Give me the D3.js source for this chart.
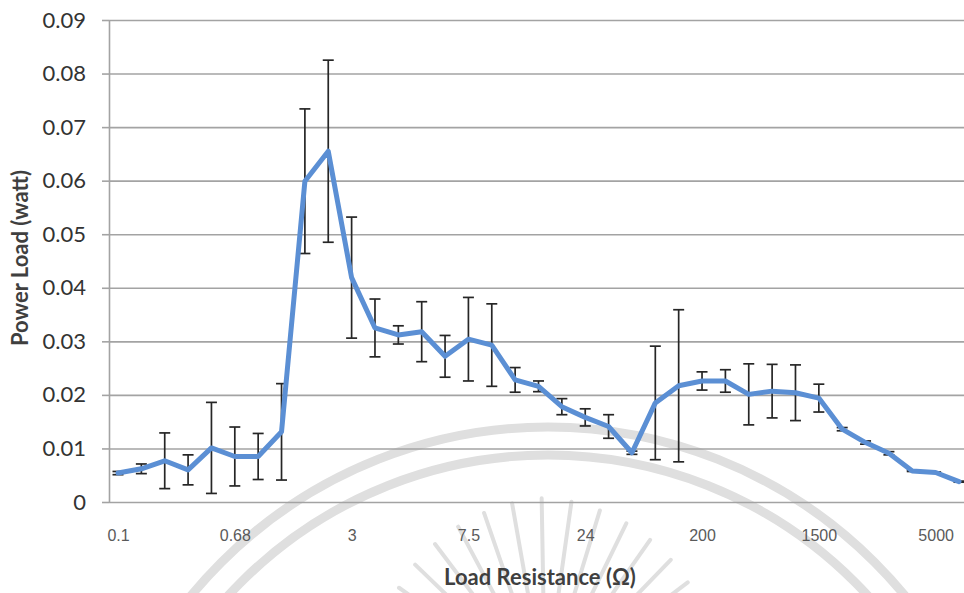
<!DOCTYPE html>
<html>
<head>
<meta charset="utf-8">
<script src="https://cdn.jsdelivr.net/npm/d3@7"></script>
<style>
  html, body { margin: 0; padding: 0; background: #ffffff; }
  svg { display: block; }
</style>
</head>
<body>
<svg id="chart" width="964" height="593"></svg>
<script>
// Measured load power at each load resistance step (37 steps, one label every 5th)
const stepCount = 37;
const power = [
  0.0054, 0.0062, 0.0077, 0.0060, 0.0101, 0.0085, 0.0085, 0.0131, 0.0599, 0.0655,
  0.0419, 0.0325, 0.0312, 0.0318, 0.0272, 0.0304, 0.0293, 0.0228, 0.0216, 0.0178,
  0.0158, 0.0141, 0.0092, 0.0185, 0.0217, 0.0226, 0.0226, 0.0201, 0.0207, 0.0204,
  0.0194, 0.0136, 0.0111, 0.0091, 0.0058, 0.0055, 0.0038
];
// Half-width of each error bar (watt)
const powerError = [
  0.0003, 0.0009, 0.0052, 0.0028, 0.0085, 0.0055, 0.0043, 0.0090, 0.0135, 0.0170,
  0.0113, 0.0054, 0.0017, 0.0056, 0.0039, 0.0078, 0.0077, 0.0023, 0.0010, 0.0015,
  0.0016, 0.0022, 0.0003, 0.0106, 0.0142, 0.0017, 0.0021, 0.0057, 0.0050, 0.0052,
  0.0026, 0.0003, 0.0003, 0.0003, 0.0001, 0.0001, 0.0001
];
// Resistance labels shown on the category axis and the step they sit under
const xTickSteps  = [0, 5, 10, 15, 20, 25, 30, 35];
const xTickLabels = ["0.1", "0.68", "3", "7.5", "24", "200", "1500", "5000"];
// Power axis ticks
const yTicks      = [0, 0.01, 0.02, 0.03, 0.04, 0.05, 0.06, 0.07, 0.08, 0.09];
const yTickLabels = ["0", "0.01", "0.02", "0.03", "0.04", "0.05", "0.06", "0.07", "0.08", "0.09"];

const xTitle = "Load Resistance (\u03A9)";
const yTitle = "Power Load (watt)";

const svg = d3.select("#chart");
const plot = { left: 109, right: 964, top: 20, bottom: 502 };

const steps = d3.range(stepCount);
const x = d3.scalePoint().domain(steps).range([118, 959]);
const y = d3.scaleLinear().domain([0, 0.09]).range([plot.bottom, plot.top]);

// faint background seal: two concentric rings and a fan of rays
const seal = svg.append("g").attr("class", "watermark")
  .attr("fill", "none").attr("stroke", "#dfdfdf");
const sealCx = 548, sealCy = 889;
[462, 434].forEach(r => {
  seal.append("circle").attr("cx", sealCx).attr("cy", sealCy).attr("r", r)
    .attr("stroke-width", 9);
});
const rayCx = 545, rayCy = 690;
d3.range(-172, -8, 9).forEach(a => {
  const t = a * Math.PI / 180;
  const r0 = 92, r1 = 192 - Math.abs(a + 90) * 0.25;
  seal.append("line")
    .attr("x1", rayCx + r0 * Math.cos(t)).attr("y1", rayCy + r0 * Math.sin(t))
    .attr("x2", rayCx + r1 * Math.cos(t)).attr("y2", rayCy + r1 * Math.sin(t))
    .attr("stroke-width", 4).attr("stroke-linecap", "round");
});

// horizontal gridlines
svg.append("g")
  .attr("transform", `translate(${plot.left},0)`)
  .call(d3.axisLeft(y).tickValues(yTicks).tickSize(-(plot.right - plot.left)).tickFormat(""))
  .call(g => g.select(".domain").remove())
  .call(g => g.selectAll(".tick line").attr("stroke", "#a3a3a3").attr("stroke-width", 1.6));

// power axis with outward tick marks and labels
svg.append("g")
  .attr("transform", `translate(${plot.left},0)`)
  .call(d3.axisLeft(y).tickValues(yTicks).tickSizeInner(7).tickSizeOuter(0).tickPadding(16)
    .tickFormat((d, i) => yTickLabels[i]))
  .call(g => g.select(".domain").attr("stroke", "#a3a3a3").attr("stroke-width", 1.6))
  .call(g => g.selectAll(".tick line").attr("stroke", "#a3a3a3").attr("stroke-width", 1.6))
  .call(g => g.selectAll(".tick text")
    .attr("font-family", "Lato, 'Open Sans', sans-serif")
    .attr("font-size", 22).attr("fill", "#333333"));

// resistance axis labels
svg.append("g")
  .attr("transform", `translate(0,${plot.bottom})`)
  .call(d3.axisBottom(x).tickValues(xTickSteps).tickSize(0).tickPadding(28)
    .tickFormat((d, i) => xTickLabels[i]))
  .call(g => g.select(".domain").remove())
  .call(g => g.selectAll(".tick text")
    .attr("font-family", "'Liberation Sans', Arial, sans-serif")
    .attr("font-size", 16).attr("fill", "#5a5a5a"));

// error bars
const capHalf = 5.5;
const bars = svg.append("g").attr("class", "error-bars")
  .attr("stroke", "#262626").attr("stroke-width", 1.7).attr("fill", "none");
steps.forEach(i => {
  const cx = x(i);
  const yHi = y(power[i] + powerError[i]);
  const yLo = y(power[i] - powerError[i]);
  bars.append("line").attr("x1", cx).attr("x2", cx).attr("y1", yHi).attr("y2", yLo);
  bars.append("line").attr("x1", cx - capHalf).attr("x2", cx + capHalf).attr("y1", yHi).attr("y2", yHi);
  bars.append("line").attr("x1", cx - capHalf).attr("x2", cx + capHalf).attr("y1", yLo).attr("y2", yLo);
});

// power curve
const line = d3.line().x(i => x(i)).y(i => y(power[i]));
svg.append("path")
  .datum(steps)
  .attr("d", line)
  .attr("fill", "none")
  .attr("stroke", "#5b8fd4")
  .attr("stroke-width", 5)
  .attr("stroke-linejoin", "round")
  .attr("stroke-linecap", "round");

// axis titles
svg.append("text")
  .attr("x", 540).attr("y", 585)
  .attr("text-anchor", "middle")
  .attr("font-family", "Lato, 'Open Sans', sans-serif")
  .attr("font-weight", "bold").attr("font-size", 22)
  .attr("fill", "#3f3f3f")
  .text(xTitle);

svg.append("text")
  .attr("transform", "translate(28,258) rotate(-90)")
  .attr("text-anchor", "middle")
  .attr("font-family", "Lato, 'Open Sans', sans-serif")
  .attr("font-weight", "bold").attr("font-size", 22)
  .attr("fill", "#3f3f3f")
  .text(yTitle);
</script>
</body>
</html>
